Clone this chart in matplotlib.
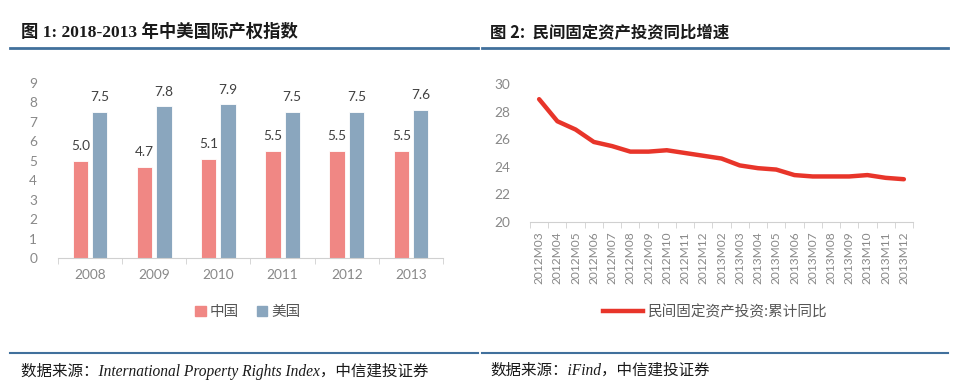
import matplotlib
matplotlib.use("Agg")
import matplotlib.pyplot as plt
from matplotlib.lines import Line2D
from matplotlib.patches import Patch
import numpy as np

# ---- data ----
years = ["2008", "2009", "2010", "2011", "2012", "2013"]
china = [5.0, 4.7, 5.1, 5.5, 5.5, 5.5]
usa = [7.5, 7.8, 7.9, 7.5, 7.5, 7.6]
bar_labels = ["中国", "美国"]

months = ["2012M03", "2012M04", "2012M05", "2012M06", "2012M07", "2012M08",
          "2012M09", "2012M10", "2012M11", "2012M12", "2013M02", "2013M03",
          "2013M04", "2013M05", "2013M06", "2013M07", "2013M08", "2013M09",
          "2013M10", "2013M11", "2013M12"]
growth = [28.9, 27.3, 26.7, 25.8, 25.5, 25.1, 25.1, 25.2, 25.0, 24.8, 24.6,
          24.1, 23.9, 23.8, 23.4, 23.3, 23.3, 23.3, 23.4, 23.2, 23.1]
line_label = "民间固定资产投资:累计同比"

title1 = "图 1: 2018-2013 年中美国际产权指数"
title2 = "图 2:  民间固定资产投资同比增速"
source1 = "数据来源：International Property Rights Index，中信建投证券"
source2 = "数据来源：iFind，中信建投证券"

CJK = "Noto Sans CJK SC"
SANS = ["Lato", CJK]
SERIF = ["Liberation Serif", CJK]
TICK = "#888888"
VAL = "#404040"
C_CN = "#F08784"
C_US = "#8AA6BE"
C_LINE = "#E8352A"
RULE = "#41709C"

W, H = 960, 390
fig = plt.figure(figsize=(W / 100, H / 100), dpi=100)
fig.patch.set_facecolor("white")

def px_axes(x0, x1, ytop, ybot):
    return fig.add_axes([x0 / W, 1 - ybot / H, (x1 - x0) / W, (ybot - ytop) / H])

# ---- titles and rules ----
fig.text(21 / W, 1 - 32 / H, title1, fontsize=12.5, fontweight="bold",
         family=SERIF, va="center", ha="left", color="#1a1a1a")
fig.text(490 / W, 1 - 32 / H, title2, fontsize=11.8, fontweight="bold",
         family=[CJK], va="center", ha="left", color="#1a1a1a")
for (a, b) in [(10, 478), (482, 948)]:
    fig.add_artist(Line2D([a / W, b / W], [1 - 48 / H] * 2, color=RULE, lw=2))
    fig.add_artist(Line2D([a / W, b / W], [1 - 353 / H] * 2, color=RULE, lw=1.5))
fig.text(21 / W, 1 - 371 / H, source1, fontsize=11.2, style="italic",
         family=SERIF, va="center", ha="left", color="#1a1a1a")
fig.text(490 / W, 1 - 371 / H, source2, fontsize=11.2, style="italic",
         family=SERIF, va="center", ha="left", color="#1a1a1a")

# ---- left bar chart ----
ax1 = px_axes(58, 443, 83, 258)
x = np.arange(len(years))
bw, off = 0.24, 0.15
ax1.bar(x - off, china, bw, color=C_CN, edgecolor="white", linewidth=0.6, label=bar_labels[0])
ax1.bar(x + off, usa, bw, color=C_US, edgecolor="white", linewidth=0.6, label=bar_labels[1])
for xi, v in zip(x - off, china):
    ax1.text(xi, v + 0.45, f"{v:.1f}", ha="center", va="bottom", fontsize=9.8,
             family=SANS, color=VAL)
for xi, v in zip(x + off, usa):
    ax1.text(xi, v + 0.45, f"{v:.1f}", ha="center", va="bottom", fontsize=9.8,
             family=SANS, color=VAL)
ax1.set_xlim(-0.5, len(years) - 0.5)
ax1.set_ylim(0, 9)
ax1.set_yticks(range(0, 10))
ax1.set_xticks(x)
ax1.set_xticklabels(years)
ax1.set_xticks(np.arange(-0.5, len(years)), minor=True)
for s in ["top", "right", "left"]:
    ax1.spines[s].set_visible(False)
ax1.spines["bottom"].set_color("#d0d0d0")
ax1.tick_params(axis="both", which="major", length=0, labelsize=9.8, labelcolor=TICK)
ax1.tick_params(axis="x", which="major", pad=8)
ax1.tick_params(axis="y", pad=15)
ax1.tick_params(axis="x", which="minor", length=4, color="#d0d0d0")
for lab in ax1.get_xticklabels() + ax1.get_yticklabels():
    lab.set_family(SANS)
fig.legend(handles=[Patch(color=C_CN, label=bar_labels[0]), Patch(color=C_US, label=bar_labels[1])],
           loc="center", bbox_to_anchor=(248 / W, 1 - 312 / H), ncol=2, frameon=False,
           handlelength=0.7, handleheight=0.7, handletextpad=0.3, columnspacing=1.2,
           prop={"family": CJK, "size": 10.5}, labelcolor="#555555")

# ---- right line chart ----
ax2 = px_axes(530, 913, 84, 222)
xm = np.arange(len(months))
ax2.plot(xm, growth, color=C_LINE, lw=3.2, solid_capstyle="round", solid_joinstyle="round")
ax2.set_xlim(-0.5, len(months) - 0.5)
ax2.set_ylim(20, 30)
ax2.set_yticks(range(20, 31, 2))
ax2.set_xticks(xm)
ax2.set_xticklabels(months, rotation=90)
ax2.set_xticks(np.arange(-0.5, len(months)), minor=True)
for s in ["top", "right", "left"]:
    ax2.spines[s].set_visible(False)
ax2.spines["bottom"].set_color("#d0d0d0")
ax2.tick_params(axis="both", which="major", length=0, labelsize=8.6, labelcolor=TICK)
ax2.tick_params(axis="x", which="major", pad=7)
ax2.tick_params(axis="y", labelsize=9.8, pad=14)
ax2.tick_params(axis="x", which="minor", length=4, color="#d0d0d0")
for lab in ax2.get_xticklabels() + ax2.get_yticklabels():
    lab.set_family(SANS)
fig.legend(handles=[Line2D([], [], color=C_LINE, lw=3.2, label=line_label)],
           loc="center", bbox_to_anchor=(715 / W, 1 - 312 / H), frameon=False,
           handlelength=2.8, handletextpad=0.3,
           prop={"family": CJK, "size": 10.5}, labelcolor="#555555")

fig.savefig("out.png", dpi=100, facecolor="white")
